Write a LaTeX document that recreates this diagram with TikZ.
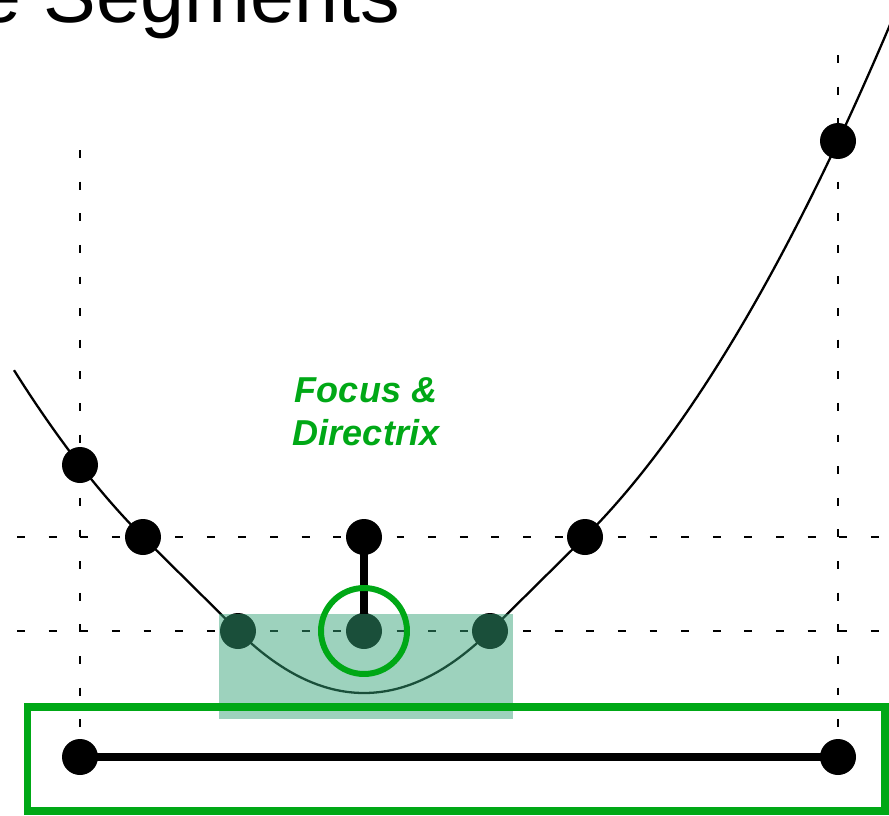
\documentclass[tikz,border=0pt]{standalone}
\usepackage{fontspec}
\setmainfont{Liberation Sans}
\usetikzlibrary{positioning}
\definecolor{slidegreen}{RGB}{0,168,22}
\definecolor{boxgreen}{RGB}{55,163,120}
\tikzset{
  dot/.style={circle, fill=black, inner sep=0pt, minimum size=0.72cm},
  guide/.style={line width=1.6pt, dash pattern=on 4.5pt off 13.5pt},
  curve/.style={line width=1.3pt},
  bar/.style={line width=4.5pt},
  hilite/.style={fill=boxgreen, fill opacity=0.49},
  ring/.style={draw=slidegreen, line width=3.4pt},
  frame/.style={draw=slidegreen, line width=4pt},
  notetext/.style={text=slidegreen, align=center, font=\fontsize{20.5}{24.5}\selectfont\bfseries\itshape}
}

\begin{document}
\begin{tikzpicture}[x=0.02cm, y=-0.02cm]
  \useasboundingbox (0,0) rectangle (889,815);
  \clip (0,0) rectangle (889,815);

  % dotted guides
  \draw[guide] (17,537) -- (889,537);
  \draw[guide] (17,631) -- (889,631);
  \draw[guide] (80,150) -- (80,730);
  \draw[guide] (838,55) -- (838,730);

  % knots
  \coordinate (k1) at (80,465);
  \coordinate (k2) at (143,537);
  \coordinate (k3) at (238,631);
  \coordinate (k4) at (490,631);
  \coordinate (k5) at (585,537);
  \coordinate (k6) at (838,141);
  \coordinate (top) at (364,537);
  \coordinate (focus) at (364,631);
  \coordinate (ends) at (80,757);
  \coordinate (ende) at (838,757);

  % the curve
  \draw[curve] plot[domain=14:143, samples=40] (\x, {537-(143-\x)-0.00227*(143-\x)*(143-\x)});
  \draw[curve] (k2) -- (k3);
  \draw[curve] (k3) .. controls (322,713.67) and (406,713.67) .. (k4);
  \draw[curve] (k4) -- (k5);
  \draw[curve] plot[domain=585:900, samples=60] (\x, {537-(\x-585)-0.002234*(\x-585)*(\x-585)});

  \draw[bar] (top) -- (focus);
  \draw[bar] (ends) -- (ende);

  \foreach \p in {k1,k2,k3,k4,k5,k6,top,focus,ends,ende}
    \node[dot] (d\p) at (\p) {};

  % focus & directrix segment
  \fill[hilite] (219,614) rectangle (513,719);
  \draw[ring] (focus) circle (0.86cm);
  \draw[frame] (27.5,707) rectangle (885,811);

  \node[notetext] (note) at (366,412) {Focus \&\\Directrix};
  \node[anchor=base east, font=\fontsize{45}{54}\selectfont] (title) at (406,22) {e Segments};
\end{tikzpicture}
\end{document}
